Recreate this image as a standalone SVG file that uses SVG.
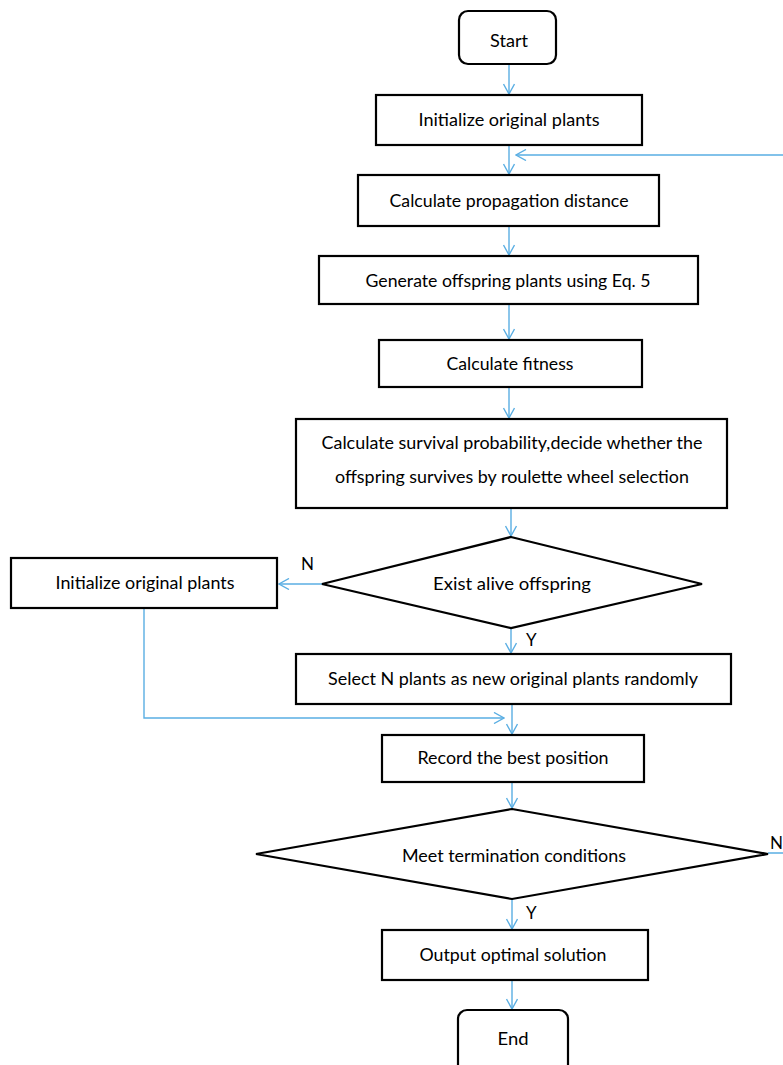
<svg xmlns="http://www.w3.org/2000/svg" width="783" height="1065" viewBox="0 0 783 1065">
<style>
.box{fill:#fff;stroke:#000;stroke-width:2.2}
.t{font-family:Lato,"Open Sans","Liberation Sans",sans-serif;font-size:16.5px;fill:#000;text-anchor:middle}
.lb{font-family:Lato,"Open Sans","Liberation Sans",sans-serif;font-size:17px;fill:#000}
.c{fill:none;stroke:#5aaee3;stroke-width:1.4}
</style>
<defs>
<marker id="ah" markerWidth="12" markerHeight="12" viewBox="0 0 12 12" refX="11" refY="6" orient="auto" markerUnits="userSpaceOnUse">
<path d="M1,0.5 L11,6 L1,11.5" fill="none" stroke="#5aaee3" stroke-width="1.4"/>
</marker>
</defs>
<rect width="783" height="1065" fill="#fff"/>
<g id="connectors">
<path class="c" d="M509,64 V94" marker-end="url(#ah)"/>
<path class="c" d="M509,145 V174" marker-end="url(#ah)"/>
<path class="c" d="M768,853 H800 V155 H516" marker-end="url(#ah)"/>
<path class="c" d="M509,226 V255" marker-end="url(#ah)"/>
<path class="c" d="M509,304 V339" marker-end="url(#ah)"/>
<path class="c" d="M509,387 V418" marker-end="url(#ah)"/>
<path class="c" d="M511,508 V536" marker-end="url(#ah)"/>
<path class="c" d="M511,628 V653" marker-end="url(#ah)"/>
<path class="c" d="M322,584 H279" marker-end="url(#ah)"/>
<path class="c" d="M144,608 V718 H504" marker-end="url(#ah)"/>
<path class="c" d="M512,704 V734" marker-end="url(#ah)"/>
<path class="c" d="M512,782 V808" marker-end="url(#ah)"/>
<path class="c" d="M512,899 V929" marker-end="url(#ah)"/>
<path class="c" d="M512,980 V1009" marker-end="url(#ah)"/>
<text class="lb" x="301" y="570">N</text>
<text class="lb" x="526" y="646">Y</text>
<text class="lb" x="770" y="849">N</text>
<text class="lb" x="526" y="919">Y</text>
</g>
<g id="start"><rect class="box" x="459" y="11" width="97" height="53" rx="9"/><text class="t" x="509" y="47" textLength="38" lengthAdjust="spacingAndGlyphs">Start</text></g>
<g id="init"><rect class="box" x="376" y="95" width="266" height="50"/><text class="t" x="509" y="126" textLength="181" lengthAdjust="spacingAndGlyphs">Initialize original plants</text></g>
<g id="propdist"><rect class="box" x="358" y="175" width="301" height="51"/><text class="t" x="509" y="207" textLength="239" lengthAdjust="spacingAndGlyphs">Calculate propagation distance</text></g>
<g id="generate"><rect class="box" x="319" y="256" width="379" height="48"/><text class="t" x="508" y="287" textLength="285" lengthAdjust="spacingAndGlyphs">Generate offspring plants using Eq. 5</text></g>
<g id="fitness"><rect class="box" x="379" y="340" width="263" height="47"/><text class="t" x="510" y="370" textLength="127" lengthAdjust="spacingAndGlyphs">Calculate fitness</text></g>
<g id="survival"><rect class="box" x="296" y="419" width="431" height="89"/><text class="t" x="512" y="449" textLength="381" lengthAdjust="spacingAndGlyphs">Calculate survival probability,decide whether the</text><text class="t" x="512" y="483" textLength="354" lengthAdjust="spacingAndGlyphs">offspring survives by roulette wheel selection</text></g>
<g id="exist"><polygon class="box" points="511,537 702,584 511,628 322,584"/><text class="t" x="512" y="590" textLength="158" lengthAdjust="spacingAndGlyphs">Exist alive offspring</text></g>
<g id="reinit"><rect class="box" x="11" y="558" width="266" height="50"/><text class="t" x="145" y="589" textLength="179" lengthAdjust="spacingAndGlyphs">Initialize original plants</text></g>
<g id="select"><rect class="box" x="296" y="654" width="435" height="50"/><text class="t" x="513" y="685" textLength="370" lengthAdjust="spacingAndGlyphs">Select N plants as new original plants randomly</text></g>
<g id="record"><rect class="box" x="382" y="735" width="262" height="47"/><text class="t" x="513" y="764" textLength="191" lengthAdjust="spacingAndGlyphs">Record the best position</text></g>
<g id="meet"><polygon class="box" points="512,809 768,854 512,899 256,854"/><text class="t" x="514" y="862" textLength="224" lengthAdjust="spacingAndGlyphs">Meet termination conditions</text></g>
<g id="output"><rect class="box" x="382" y="930" width="266" height="50"/><text class="t" x="513" y="961" textLength="187" lengthAdjust="spacingAndGlyphs">Output optimal solution</text></g>
<g id="end"><rect class="box" x="458" y="1010" width="110" height="70" rx="9"/><text class="t" x="513" y="1045" textLength="31" lengthAdjust="spacingAndGlyphs">End</text></g>
</svg>
